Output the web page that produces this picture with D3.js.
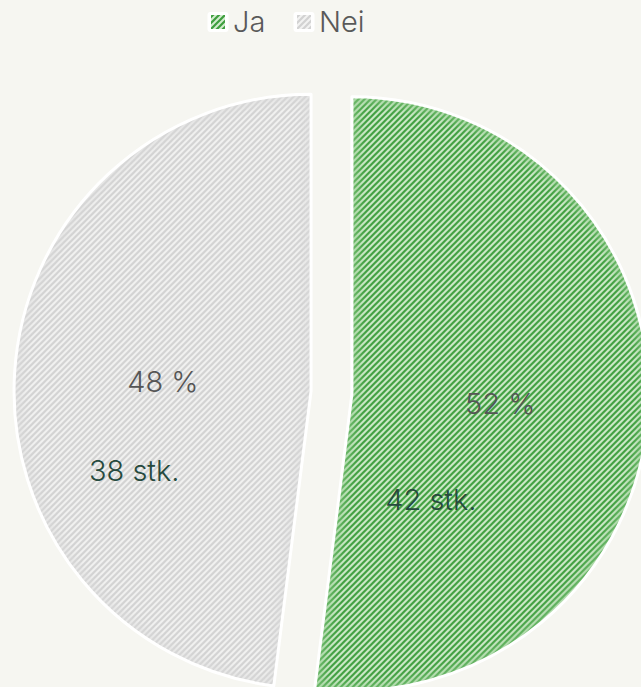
<!DOCTYPE html>
<html>
<head>
<meta charset="utf-8">
<script src="https://cdn.jsdelivr.net/npm/d3@7"></script>
<style>
  html, body { margin: 0; padding: 0; background: #f6f6f1; }
  svg { display: block; font-family: Inter, Lato, sans-serif; font-weight: 350; }
</style>
</head>
<body>
<div id="chart"></div>
<script>
// data
const categories = ["Ja", "Nei"];
const percents = [52, 48];
const counts = [42, 38];

const width = 641, height = 687;
const cx = 331.5, cy = 392.5, radius = 297, explode = 20.5;

const fills = { Ja: { bg: "#d3ecce", line: "#3d9e3d", edge: "#8fcb8a" },
                Nei: { bg: "#f2f2f1", line: "#d2d2d2", edge: "#dadada" } };

const svg = d3.select("#chart")
  .append("svg")
  .attr("width", width)
  .attr("height", height);

svg.append("rect").attr("width", width).attr("height", height).attr("fill", "#f6f6f1");

const defs = svg.append("defs");

// striped patterns
categories.forEach(function (c) {
  const p = defs.append("pattern")
    .attr("id", "pat-" + c)
    .attr("patternUnits", "userSpaceOnUse")
    .attr("width", 6).attr("height", 6);
  p.append("rect").attr("width", 6).attr("height", 6).attr("fill", fills[c].bg);
  p.append("path")
    .attr("d", "M-1.5,1.5 l3,-3 M0,6 l6,-6 M4.5,7.5 l3,-3")
    .attr("stroke", fills[c].line)
    .attr("stroke-width", 2.2);
});

defs.append("filter").attr("id", "soft")
  .attr("x", "-10%").attr("y", "-10%").attr("width", "120%").attr("height", "120%")
  .append("feGaussianBlur").attr("stdDeviation", 4);

const rows = categories.map(function (c, i) { return { cat: c, pct: percents[i], n: counts[i] }; });

const pie = d3.pie().sort(null).value(function (d) { return d.pct; });
const arcs = pie(rows);

const arc = d3.arc().innerRadius(0).outerRadius(radius);

// where the count labels sit, relative to each slice
const countPos = { Ja: { r: 132, a: 143.3 }, Nei: { r: 194, a: 245.7 } };

const slices = svg.append("g").attr("transform", `translate(${cx},${cy})`)
  .selectAll("g")
  .data(arcs)
  .join("g")
  .attr("transform", function (d) {
    const mid = (d.startAngle + d.endAngle) / 2;
    return `translate(${explode * Math.sin(mid)},${-explode * Math.cos(mid)})`;
  });

slices.append("clipPath")
  .attr("id", function (d) { return "clip-" + d.data.cat; })
  .append("path")
  .attr("d", arc);

slices.append("path")
  .attr("d", arc)
  .attr("fill", function (d) { return "url(#pat-" + d.data.cat + ")"; });

// soft inner edge shading
slices.append("g")
  .attr("clip-path", function (d) { return "url(#clip-" + d.data.cat + ")"; })
  .append("path")
  .attr("d", arc)
  .attr("fill", "none")
  .attr("stroke", function (d) { return fills[d.data.cat].edge; })
  .attr("stroke-width", 14)
  .attr("opacity", 0.55)
  .attr("filter", "url(#soft)");

slices.append("path")
  .attr("d", arc)
  .attr("fill", "none")
  .attr("stroke", "#ffffff")
  .attr("stroke-width", 3)
  .attr("stroke-linejoin", "round");

// percent labels
slices.append("text")
  .attr("transform", function (d) { return `translate(${arc.centroid(d)})`; })
  .attr("text-anchor", "middle")
  .attr("dy", "0.36em")
  .attr("font-size", 29)
  .attr("fill", "#555555")
  .text(function (d) { return d.data.pct + " %"; });

// count labels
slices.append("text")
  .attr("transform", function (d) {
    const p = countPos[d.data.cat];
    const a = p.a * Math.PI / 180;
    return `translate(${p.r * Math.sin(a)},${-p.r * Math.cos(a)})`;
  })
  .attr("text-anchor", "middle")
  .attr("dy", "0.36em")
  .attr("font-size", 29)
  .attr("fill", "#264a3e")
  .text(function (d) { return d.data.n + " stk."; });

// legend
const legendX = [218, 304];
const legend = svg.append("g")
  .selectAll("g")
  .data(categories)
  .join("g")
  .attr("transform", function (d, i) { return `translate(${legendX[i]},22)`; });

legend.append("rect")
  .attr("x", -10.5).attr("y", -10).attr("width", 21).attr("height", 20)
  .attr("rx", 3)
  .attr("fill", "#ffffff");
legend.append("rect")
  .attr("x", -7).attr("y", -7).attr("width", 14).attr("height", 14)
  .attr("fill", function (d) { return "url(#pat-" + d + ")"; });
legend.append("text")
  .attr("x", 15)
  .attr("dy", "0.36em")
  .attr("font-size", 29)
  .attr("fill", "#595959")
  .text(function (d) { return d; });
</script>
</body>
</html>
